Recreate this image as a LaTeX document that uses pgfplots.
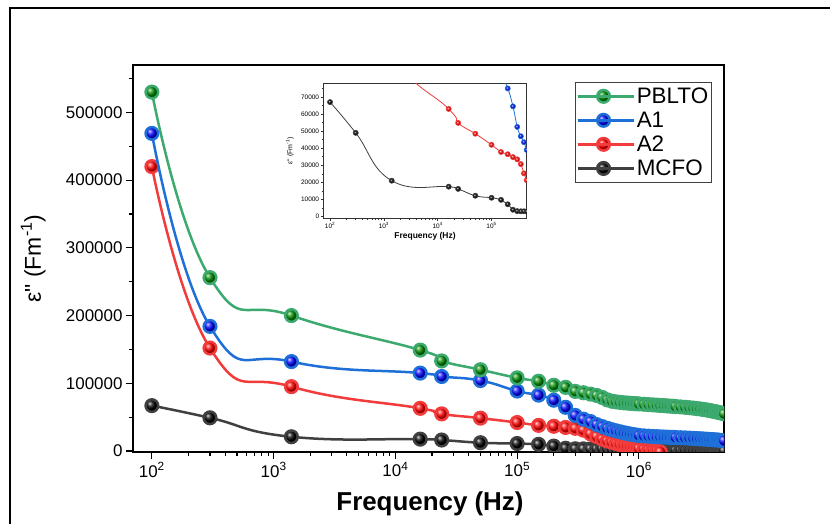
\documentclass[border=0pt]{standalone}
\usepackage{fontspec}
\setmainfont{Liberation Sans}[Ligatures=TeXOff]
\usepackage{pgfplots}
\usepackage{pgfplotstable}
\pgfplotsset{compat=1.18}

\definecolor{lgreen}{HTML}{3CAA6E}
\definecolor{mgreen}{HTML}{008A00}
\definecolor{lblue}{HTML}{1F6FD8}
\definecolor{mblue}{HTML}{0000FF}
\definecolor{lred}{HTML}{F23C3C}
\definecolor{mred}{HTML}{FF0000}
\definecolor{lblack}{HTML}{404040}

\pgfplotstableread{
f v
100 530000
300 256000
1400 200000
16000 149000
24000 133000
50000 120000
100000 108000
150000 103000
200000 97000
250000 94000
300000 88000
350000 86000
400000 84000
450000 82000
500000 79000
550000 75500
600000 73500
650000 72500
700000 71800
750000 71200
800000 70800
850000 70400
900000 70100
950000 69800
1000000 69500
1100000 69000
1200000 68500
1300000 68100
1400000 67700
1500000 67300
1600000 67000
1700000 66600
1800000 66300
1900000 66000
2000000 65700
2200000 65100
2400000 64500
2600000 63900
2800000 63300
3000000 62600
3200000 62000
3400000 61300
3600000 60600
3800000 59800
4000000 59000
4200000 58200
4400000 57400
4600000 56600
4800000 55800
5000000 55000
}\pblto

\pgfplotstableread{
f v
100 469000
300 184000
1400 132000
16000 115000
24000 110000
50000 104000
100000 88500
150000 82500
200000 75000
250000 64500
300000 52500
350000 47000
400000 43500
450000 39000
500000 36000
550000 33500
600000 31500
650000 29800
700000 28300
750000 27000
800000 25900
850000 25000
900000 24200
950000 23500
1000000 23000
1100000 22300
1200000 21800
1300000 21400
1400000 21100
1500000 20800
1600000 20600
1700000 20400
1800000 20200
1900000 20100
2000000 20000
2200000 19600
2400000 19300
2600000 19000
2800000 18600
3000000 18300
3200000 18000
3400000 17700
3600000 17400
3800000 17100
4000000 16800
4200000 16500
4400000 16200
4600000 15800
4800000 15500
5000000 15200
}\aone

\pgfplotstableread{
f v
100 420000
300 152000
1400 95000
16000 63000
24000 54800
50000 48500
100000 42000
150000 37800
200000 36500
250000 34800
300000 33500
350000 30700
400000 25300
450000 21300
500000 17500
550000 14800
600000 12700
650000 11000
700000 9500
750000 8200
800000 7100
850000 6100
900000 5200
950000 4400
1000000 3700
1100000 2500
1200000 1600
1300000 900
1400000 300
1500000 -1500
1600000 -3500
1700000 -6000
1800000 -9000
1900000 -12000
}\atwo

\pgfplotstableread{
f v
100 67000
300 49000
1400 21000
16000 17500
24000 16200
50000 12200
100000 11000
150000 9800
200000 7200
250000 4000
300000 3200
350000 3100
400000 3100
450000 3000
500000 2900
550000 2800
600000 2700
650000 2600
700000 2500
750000 2400
800000 2300
850000 2200
900000 2100
950000 2000
1000000 1900
1100000 1800
1200000 1700
1300000 1600
1400000 1500
1500000 1400
1600000 1300
1700000 1200
1800000 1100
1900000 1000
2000000 900
2200000 800
2400000 700
2600000 600
2800000 500
3000000 400
3200000 300
3400000 200
3600000 100
3800000 0
4000000 0
4200000 0
4400000 0
4600000 0
4800000 0
5000000 0
}\mcfo

\begin{document}
\begin{tikzpicture}
\path[use as bounding box] (0bp,0bp) rectangle (830bp,524bp);
\draw[line width=1.2bp] (10bp,0bp) -- (10bp,516bp) -- (830bp,516bp);

\begin{axis}[
  at={(133bp,72bp)}, anchor=south west,
  width=591bp, height=387bp, scale only axis,
  xmode=log, xmin=70, xmax=5e6,
  ymin=-1500, ymax=570000,
  scaled y ticks=false,
  xtick={1e2,1e3,1e4,1e5,1e6},
  xticklabels={10\textsuperscript{2},10\textsuperscript{3},10\textsuperscript{4},10\textsuperscript{5},10\textsuperscript{6}},
  ytick={0,100000,200000,300000,400000,500000},
  yticklabels={0,100000,200000,300000,400000,500000},
  minor ytick={50000,150000,250000,350000,450000,550000},
  tick align=outside, xtick pos=bottom, ytick pos=left,
  major tick length=7bp, minor tick length=4bp,
  tick style={black, line width=1.1bp},
  axis line style={black, line width=1.2bp},
  ticklabel style={font=\fontsize{17}{20}\selectfont},
  clip marker paths=true,
  xlabel={Frequency (Hz)},
  ylabel={ε" (Fm\textsuperscript{-1})},
  xlabel style={at={(axis description cs:0.5025,-0.134)}, anchor=center, font=\fontsize{26}{30}\selectfont\bfseries},
  ylabel style={at={(axis description cs:-0.169,0.5)}, anchor=center, font=\fontsize{23}{26}\selectfont},
  legend style={at={(axis description cs:0.748,0.956)}, anchor=north west, draw=black!75,
    font=\fontsize{22.5}{24}\selectfont, inner xsep=1bp, inner ysep=3.5bp, row sep=3bp, cells={anchor=west}},
  legend image code/.code={\draw[mark repeat=2, mark phase=2] plot coordinates {(0bp,0bp) (26bp,0bp) (52bp,0bp)}; \path (0bp,0bp) -- (56bp,0bp);},
  reverse legend,
]
\addplot[color=lblack, line width=2.5bp, smooth, tension=0.85, mark=ball, mark size=6.3bp, mark options={ball color=black}] table {\mcfo};
\addlegendentry{MCFO}
\addplot[color=lred, line width=2.5bp, smooth, tension=0.85, mark=ball, mark size=6.3bp, mark options={ball color=mred}] table {\atwo};
\addlegendentry{A2}
\addplot[color=lblue, line width=2.5bp, smooth, tension=0.85, mark=ball, mark size=6.3bp, mark options={ball color=mblue}] table {\aone};
\addlegendentry{A1}
\addplot[color=lgreen, line width=2.5bp, smooth, tension=0.85, mark=ball, mark size=6.3bp, mark options={ball color=mgreen}] table {\pblto};
\addlegendentry{PBLTO}
\end{axis}

\begin{axis}[
  at={(323.3bp,305.7bp)}, anchor=south west,
  width=203.4bp, height=135bp, scale only axis,
  axis background/.style={fill=white},
  xmode=log, xmin=75, xmax=4.5e5,
  ymin=-1000, ymax=78000,
  scaled y ticks=false,
  xtick={1e2,1e3,1e4,1e5},
  xticklabels={10\textsuperscript{2},10\textsuperscript{3},10\textsuperscript{4},10\textsuperscript{5}},
  ytick={0,10000,20000,30000,40000,50000,60000,70000},
  yticklabels={0,10000,20000,30000,40000,50000,60000,70000},
  minor ytick={5000,15000,25000,35000,45000,55000,65000,75000},
  tick align=outside, xtick pos=bottom, ytick pos=left,
  major tick length=2.5bp, minor tick length=1.5bp,
  tick style={black!80, line width=0.6bp},
  axis line style={black!80, line width=0.9bp},
  ticklabel style={font=\fontsize{6.5}{7}\selectfont, inner sep=1.5bp},
  clip marker paths=true,
  xlabel={Frequency (Hz)},
  ylabel={ε" (Fm\textsuperscript{-1})},
  xlabel style={at={(axis description cs:0.5,-0.136)}, anchor=center, font=\fontsize{8.5}{10}\selectfont\bfseries},
  ylabel style={at={(axis description cs:-0.164,0.5)}, anchor=center, font=\fontsize{7}{8}\selectfont},
]
\addplot[color=lblack, line width=0.8bp, smooth, tension=0.8, mark=ball, mark size=2.5bp, mark options={ball color=black}] table {\mcfo};
\addplot[color=lred, line width=0.8bp, smooth, tension=0.8, mark=ball, mark size=2.5bp, mark options={ball color=mred}] table {\atwo};
\addplot[color=lblue, line width=0.8bp, smooth, tension=0.8, mark=ball, mark size=2.5bp, mark options={ball color=mblue}] table {\aone};
\end{axis}
\end{tikzpicture}
\end{document}
